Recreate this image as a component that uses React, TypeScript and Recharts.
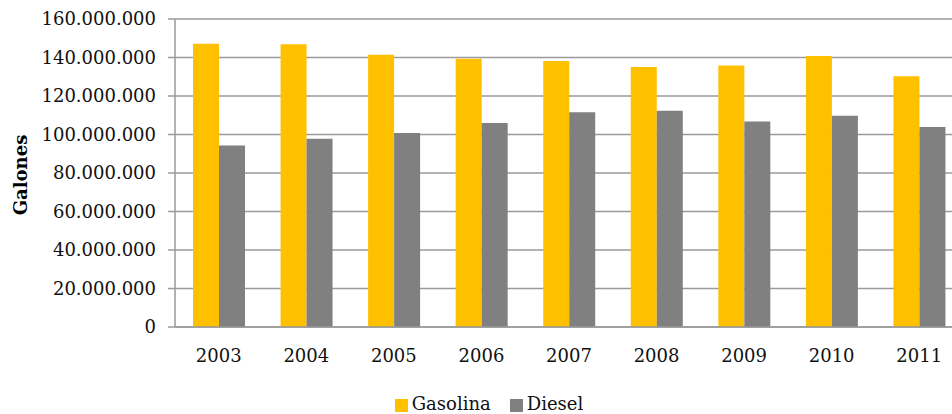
import React from 'react';
import { BarChart, Bar, XAxis, YAxis, CartesianGrid, Legend, Label } from 'recharts';

const YEARS = ['2003', '2004', '2005', '2006', '2007', '2008', '2009', '2010', '2011'];
const GASOLINA = [147100000, 146900000, 141400000, 139400000, 138200000, 135100000, 135800000, 140800000, 130300000];
const DIESEL = [94300000, 97800000, 100800000, 106000000, 111500000, 112400000, 106800000, 109800000, 103900000];
const Y_TICKS = [0, 20000000, 40000000, 60000000, 80000000, 100000000, 120000000, 140000000, 160000000];
const SERIES_ORDER = ['Gasolina', 'Diesel'];

const FONT = '"DejaVu Serif", serif';
const GRID = '#9a9a9a';

const data = YEARS.map((year, i) => ({ year, gasolina: GASOLINA[i], diesel: DIESEL[i] }));

// 160000000 -> 160.000.000
const fmt = (v: number) => String(v).replace(/\B(?=(\d{3})+(?!\d))/g, '.');

const AxisTitle = (props: any) => {
  const vb = props.viewBox || { x: 0, y: 0, width: 0, height: 0 };
  const cx = 20;
  const cy = vb.y + vb.height / 2 + 2;
  return (
    <text
      x={cx}
      y={cy}
      transform={`rotate(-90 ${cx} ${cy})`}
      textAnchor="middle"
      dominantBaseline="central"
      fontFamily={FONT}
      fontSize={18}
      fontWeight="bold"
      fill="#000"
    >
      Galones
    </text>
  );
};

export default function App() {
  return (
    <div style={{ position: 'fixed', top: 0, left: 0, width: 952, height: 414, overflow: 'hidden', background: '#fff' }}>
      <BarChart
        width={974}
        height={414}
        data={data}
        margin={{ top: 19, right: 11, bottom: 0, left: 0 }}
        barGap={0}
      >
        <CartesianGrid vertical={false} stroke={GRID} strokeWidth={1.5} />
        <XAxis
          dataKey="year"
          height={66}
          tickLine={false}
          axisLine={{ stroke: GRID, strokeWidth: 1.5 }}
          tickMargin={16}
          tick={{ fill: '#111', fontSize: 18, fontFamily: FONT }}
        />
        <YAxis
          width={175}
          domain={[0, 160000000]}
          ticks={Y_TICKS}
          interval={0}
          tickFormatter={fmt}
          tickSize={7}
          tickMargin={12}
          tickLine={{ stroke: GRID, strokeWidth: 1.5 }}
          axisLine={{ stroke: GRID, strokeWidth: 1.5 }}
          tick={{ fill: '#111', fontSize: 18, fontFamily: FONT }}
        >
          <Label content={<AxisTitle />} />
        </YAxis>
        <Legend
          verticalAlign="bottom"
          align="center"
          iconType="square"
          iconSize={13}
          itemSorter={(item: any) => SERIES_ORDER.indexOf(item.value)}
          wrapperStyle={{ fontFamily: FONT, fontSize: 18, paddingLeft: 17 }}
          formatter={(value: string) => (
            <span style={{ color: '#111', marginRight: 9 }}>{value}</span>
          )}
        />
        <Bar dataKey="gasolina" name="Gasolina" fill="#FFC000" barSize={26} isAnimationActive={false} />
        <Bar dataKey="diesel" name="Diesel" fill="#808080" barSize={26} isAnimationActive={false} />
      </BarChart>
    </div>
  );
}
